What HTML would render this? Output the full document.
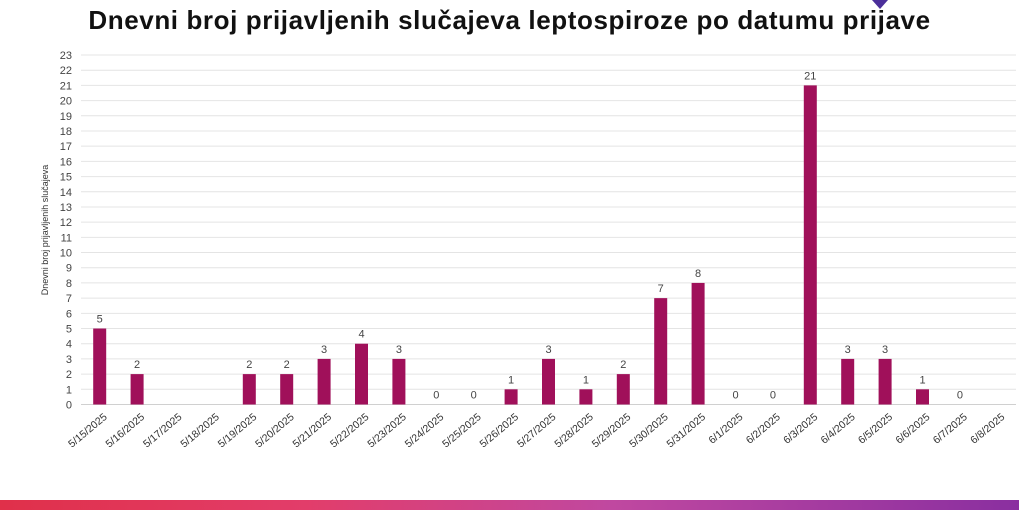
<!DOCTYPE html>
<html><head><meta charset="utf-8"><style>
body{margin:0;width:1019px;height:510px;overflow:hidden;background:#fff;font-family:"Liberation Sans",sans-serif;position:relative}
#title{position:absolute;left:0;width:1019px;top:5px;text-align:center;font-weight:bold;font-size:26px;color:#111;letter-spacing:0.6px;white-space:nowrap}
#bottom-bar{position:absolute;left:0;top:500px;width:1019px;height:10px;background:linear-gradient(90deg,#e0304a 0%,#e23d6a 30%,#c048a0 60%,#8a2fa0 100%)}
</style></head><body>
<div id="title">Dnevni broj prijavljenih slučajeva leptospiroze po datumu prijave</div>
<svg width="1019" height="510" style="position:absolute;left:0;top:0" id="chart">
<polygon points="872,0 888,0 880,9" fill="#4b2f9a"/>
</svg>
<div id="bottom-bar"></div>
<script>
const categories=["5/15/2025","5/16/2025","5/17/2025","5/18/2025","5/19/2025","5/20/2025","5/21/2025","5/22/2025","5/23/2025","5/24/2025","5/25/2025","5/26/2025","5/27/2025","5/28/2025","5/29/2025","5/30/2025","5/31/2025","6/1/2025","6/2/2025","6/3/2025","6/4/2025","6/5/2025","6/6/2025","6/7/2025","6/8/2025"];
const values=[5,2,null,null,2,2,3,4,3,0,0,1,3,1,2,7,8,0,0,21,3,3,1,0,null];
const yTicks=[0,1,2,3,4,5,6,7,8,9,10,11,12,13,14,15,16,17,18,19,20,21,22,23];
const NS="http://www.w3.org/2000/svg";
const svg=document.getElementById('chart');
const L=81,R=1016,Y0=404.5,Y1=55,YMAX=23;
const step=(R-L)/categories.length;
function y(v){return Y0-(v/YMAX)*(Y0-Y1);}
function x(i){return L+step*(i+0.5);}
function mk(t,a){const e=document.createElementNS(NS,t);for(const k in a)e.setAttribute(k,a[k]);svg.appendChild(e);return e;}
yTicks.forEach(v=>{
  const g=mk('line',{x1:L,x2:R,y1:y(v),y2:y(v),stroke:v===0?'#d0d0d0':'#e4e4e4','stroke-width':1});
  
  
  const t=mk('text',{x:72,y:y(v)+4,'text-anchor':'end','font-size':11,fill:'#444'});
  t.textContent=v;
  
  
});
const yt=mk('text',{x:0,y:0,transform:'translate(48,230) rotate(-90)','text-anchor':'middle','font-size':9,fill:'#333'});
yt.textContent='Dnevni broj prijavljenih slučajeva';


categories.forEach((c,i)=>{
  const cx=x(i);
  const lab=mk('text',{x:0,y:0,transform:`translate(${cx+8},${418}) rotate(-40)`,'text-anchor':'end','font-size':10.5,fill:'#333'});
  lab.textContent=c;
  
  
  const v=values[i];
  if(v===null)return;
  if(v>0){
    const b=mk('rect',{x:cx-6.5,y:y(v),width:13,height:Y0-y(v),fill:'#a0105a'});
    
    
  }
  const vl=mk('text',{x:cx,y:y(v)-6,'text-anchor':'middle','font-size':11,fill:'#444'});
  vl.textContent=v;
  
  
});
</script>
</body></html>
